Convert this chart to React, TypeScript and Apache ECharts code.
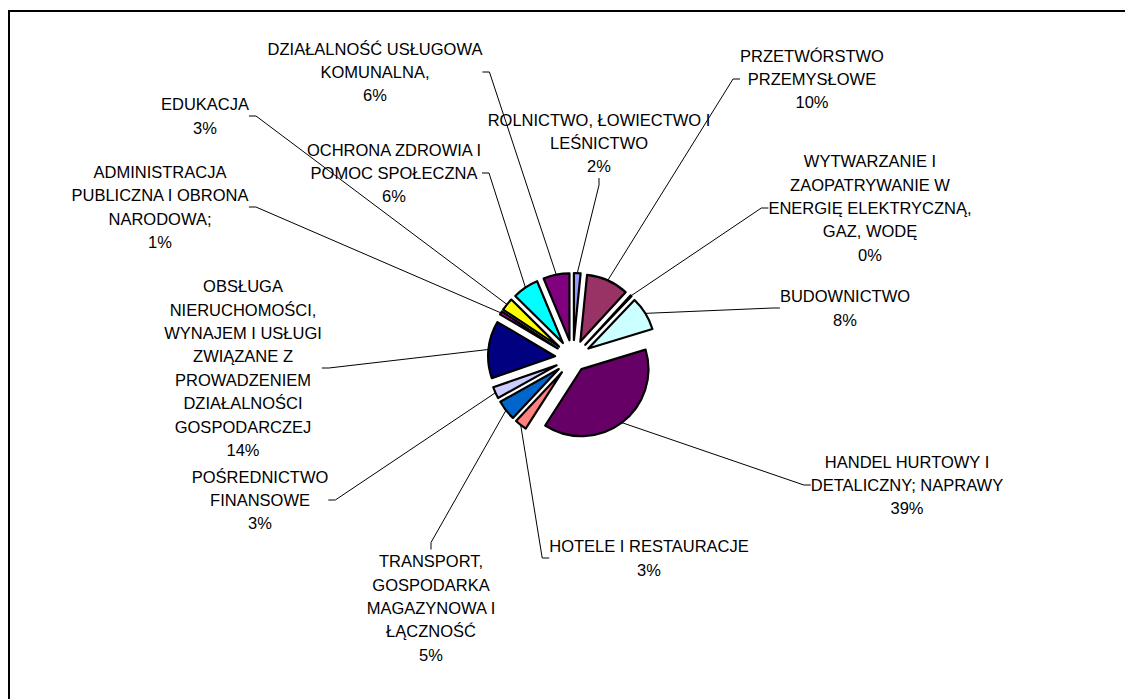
import React, { useEffect, useRef } from "react";
import * as echarts from "echarts";

const categories = [
  "ROLNICTWO, ŁOWIECTWO I\nLEŚNICTWO",
  "PRZETWÓRSTWO\nPRZEMYSŁOWE",
  "WYTWARZANIE I\nZAOPATRYWANIE W\nENERGIĘ ELEKTRYCZNĄ,\nGAZ, WODĘ",
  "BUDOWNICTWO",
  "HANDEL HURTOWY I\nDETALICZNY; NAPRAWY",
  "HOTELE I RESTAURACJE",
  "TRANSPORT,\nGOSPODARKA\nMAGAZYNOWA I\nŁĄCZNOŚĆ",
  "POŚREDNICTWO\nFINANSOWE",
  "OBSŁUGA\nNIERUCHOMOŚCI,\nWYNAJEM I USŁUGI\nZWIĄZANE Z\nPROWADZENIEM\nDZIAŁALNOŚCI\nGOSPODARCZEJ",
  "ADMINISTRACJA\nPUBLICZNA I OBRONA\nNARODOWA;",
  "EDUKACJA",
  "OCHRONA ZDROWIA I\nPOMOC SPOŁECZNA",
  "DZIAŁALNOŚĆ USŁUGOWA\nKOMUNALNA,",
];

const shares = [1.6, 10.2, 0.3, 8.2, 38.8, 2.9, 4.9, 2.8, 13.8, 0.8, 3.1, 6.3, 6.3];

const colors = [
  "#9999FF", "#993366", "#FFFFCC", "#CCFFFF", "#660066", "#FF8080", "#0066CC",
  "#CCCCFF", "#000080", "#C000C0", "#FFFF00", "#00FFFF", "#800080",
];

// label block centres (layout, not data)
const labelPos: [number, number][] = [
  [599, 143], [812, 79], [870, 208], [845, 308], [907, 485], [649, 558], [431, 608],
  [260, 500], [243, 368], [160, 207], [205, 116], [394, 173], [375, 72],
];

const BIG = 4;
const CENTER = [573, 358];
const RADIUS = 67;
const OFFSET_SMALL = 18;
const OFFSET_BIG = 14;

export default function App() {
  const ref = useRef<HTMLDivElement>(null);
  useEffect(() => {
    if (!ref.current) return;
    const chart = echarts.init(ref.current, undefined, { renderer: "svg" });
    const total = shares.reduce((a, b) => a + b, 0);
    let cum = 0;
    const series = categories.map((name, i) => {
      const startFrac = cum / total;
      const frac = shares[i] / total;
      cum += shares[i];
      const mid = (startFrac + frac / 2) * 2 * Math.PI; // clockwise from north
      const off = i === BIG ? OFFSET_BIG : OFFSET_SMALL;
      const cx = CENTER[0] + off * Math.sin(mid);
      const cy = CENTER[1] - off * Math.cos(mid);
      return {
        type: "pie",
        center: [cx, cy],
        radius: RADIUS,
        startAngle: 90 - startFrac * 360,
        clockwise: true,
        avoidLabelOverlap: false,
        silent: true,
        emphasis: { disabled: true },
        label: {
          show: true,
          position: "outside",
          color: "#000",
          fontFamily: "'Liberation Sans', Arial, sans-serif",
          fontSize: 16.5,
          lineHeight: 23.4,
          align: "center",
          formatter: (p: any) => `${p.name}\n${Math.round(p.value)}%`,
        },
        labelLine: {
          show: true,
          length: 10,
          length2: 7,
          lineStyle: { color: "#000", width: 1 },
        },
        labelLayout: (p: any) => {
          if (p.dataIndex !== 0) return {};
          const pos = labelPos[i];
          return { x: pos[0], y: pos[1], align: "center", verticalAlign: "middle" };
        },
        data: [
          {
            name,
            value: shares[i],
            itemStyle: { color: colors[i], borderColor: "#000", borderWidth: 2.2 },
          },
          {
            name: "",
            value: total - shares[i],
            itemStyle: { color: "rgba(0,0,0,0)", borderWidth: 0 },
            label: { show: false },
            labelLine: { show: false },
          },
        ],
      };
    });
    chart.setOption({
      animation: false,
      backgroundColor: "#fff",
      series,
    });
    return () => chart.dispose();
  }, []);
  return (
    <>
      <div
        ref={ref}
        style={{ position: "fixed", left: 0, top: 0, width: 1125, height: 699 }}
      />
      <div
        style={{
          position: "fixed",
          left: 8,
          top: 10,
          width: 1200,
          height: 800,
          borderTop: "2px solid #000",
          borderLeft: "2px solid #000",
          pointerEvents: "none",
        }}
      />
    </>
  );
}
